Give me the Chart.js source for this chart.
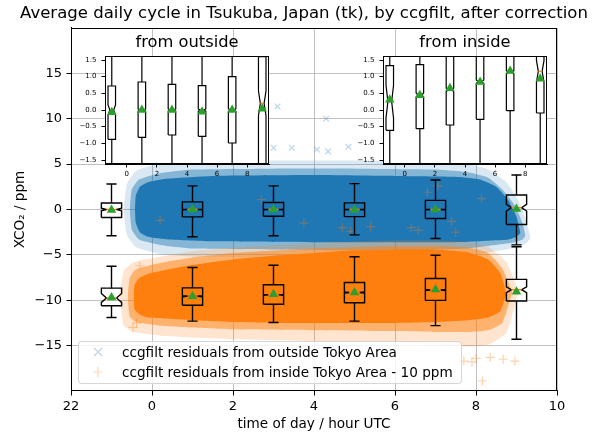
<!DOCTYPE html>
<html>
<head>
<meta charset="utf-8">
<script src="https://cdn.jsdelivr.net/npm/chart.js@4.4.1/dist/chart.umd.min.js"></script>
<style>
  html, body { margin: 0; padding: 0; background: #fff; overflow: hidden; }
  #wrap { position: relative; width: 598px; height: 437px; font-family: 'DejaVu Sans', sans-serif; }
  #wrap canvas { position: absolute; }
  #legend { position: absolute; left: 78px; top: 341px; width: 382px; height: 41px;
    border: 1px solid rgba(204,204,204,0.8); border-radius: 4px; background: rgba(255,255,255,0.8);
    font-size: 13.6px; color: #000; }
  .row { position: absolute; left: 0; width: 380px; height: 20px; line-height: 20px; white-space: nowrap; }
  .row svg { position: absolute; left: 14px; top: 5px; }
  .row span { position: absolute; left: 43px; }
</style>
</head>
<body>
<div id="wrap">
  <canvas id="main" width="598" height="437" style="left:0;top:0"></canvas>
  <canvas id="insetOut" width="234" height="156" style="left:70px;top:28px"></canvas>
  <canvas id="insetIn" width="234" height="156" style="left:348px;top:28px"></canvas>
  <div id="legend">
    <div class="row" style="top:0px">
      <svg width="10" height="10"><path d="M1 1L9 9M9 1L1 9" stroke="rgba(31,119,180,0.3)" stroke-width="1.2"/></svg>
      <span>ccgfilt residuals from outside Tokyo Area</span>
    </div>
    <div class="row" style="top:20px">
      <svg width="10" height="10"><path d="M5 0V10M0 5H10" stroke="rgba(255,127,14,0.3)" stroke-width="1.2"/></svg>
      <span>ccgfilt residuals from inside Tokyo Area - 10 ppm</span>
    </div>
  </div>
</div>
<script>
// hours (UTC) of the box positions
const positions = [-1, 1, 3, 5, 7, 9];
const insideShift = 10;   // inside series is plotted 10 ppm lower in the main panel

// box statistics, outside Tokyo Area (ppm)
const outQ1 = [-0.88, -0.82, -0.75, -0.79, -0.99, -1.65];
const outQ3 = [0.72, 0.84, 0.77, 0.73, 1.0, 1.6];
const outMed = [0.0, 0.0, 0.0, 0.0, 0.0, 0.2];
const outNotch = [0.15, 0.03, 0.03, 0.03, 0.04, 0.37];
const outLow = [-2.9, -3.0, -2.9, -2.8, -3.2, -3.9];
const outHigh = [2.8, 2.6, 2.6, 2.85, 3.25, 3.8];
const outMean = [-0.07, 0.0, 0.0, -0.05, 0.0, 0.04];

// box statistics, inside Tokyo Area (ppm)
const inQ1 = [-0.61, -0.56, -0.45, -0.28, -0.02, -0.09];
const inQ3 = [1.33, 1.36, 1.7, 1.95, 2.4, 2.3];
const inMed = [0.25, 0.45, 0.6, 0.85, 1.13, 1.16];
const inNotch = [0.49, 0.06, 0.05, 0.05, 0.05, 0.32];
const inLow = [-1.9, -2.3, -2.45, -2.3, -2.8, -4.3];
const inHigh = [3.75, 3.6, 3.85, 4.8, 4.95, 5.9];
const inMean = [0.31, 0.44, 0.65, 0.84, 1.17, 0.94];

// outline of the residual clouds: dense core, middle and sparse halo (ppm vs hour)
const blueCoreX = [-0.42, -0.4, -0.3, -0.1, 0.4, 1.5, 4, 6, 7.5, 8.1, 8.5, 8.8, 9.0, 9.1];
const blueCoreUp = [0, 1.5, 2.5, 3.0, 3.4, 3.7, 3.8, 3.7, 3.6, 3.3, 2.5, 1.0, -0.8, -2.6];
const blueCoreLow = [0, -1.5, -2.5, -3.0, -3.3, -3.5, -3.6, -3.6, -3.6, -3.5, -3.4, -3.3, -3.0, -2.6];
const blueMidX = [-0.55, -0.5, -0.32, 0.2, 1, 3, 5, 7, 7.8, 8.3, 8.65, 8.95, 9.15, 9.22];
const blueMidUp = [0, 2.2, 3.3, 4.0, 4.4, 4.5, 4.5, 4.4, 4.1, 3.5, 2.2, 0.5, -1.5, -2.9];
const blueMidLow = [0, -2.2, -3.3, -3.9, -4.3, -4.4, -4.5, -4.4, -4.3, -4.0, -3.8, -3.6, -3.3, -2.9];
const blueHaloX = [-0.7, -0.62, -0.38, 0.2, 1, 3, 5, 7, 7.8, 8.3, 8.75, 9.05, 9.25, 9.35];
const blueHaloUp = [0, 2.8, 4.3, 5.0, 5.3, 5.4, 5.4, 5.3, 5.0, 4.4, 3.0, 1.0, -1.5, -3.1];
const blueHaloLow = [0, -2.8, -4.2, -4.9, -5.2, -5.3, -5.4, -5.3, -5.1, -4.7, -4.4, -4.1, -3.7, -3.1];
const orangeCoreX = [-0.45, -0.43, -0.3, -0.1, 0.3, 1, 2, 3, 4, 5, 6, 7, 7.8, 8.3, 8.6, 8.75];
const orangeCoreUp = [-9.7, -8.3, -7.5, -7.1, -6.7, -6.1, -5.5, -5.1, -4.8, -4.5, -4.4, -4.4, -4.7, -5.5, -7.0, -9.2];
const orangeCoreLow = [-9.7, -11.0, -11.6, -11.9, -12.0, -12.2, -12.4, -12.5, -12.5, -12.5, -12.5, -12.4, -12.2, -11.9, -11.2, -9.2];
const orangeMidX = [-0.6, -0.55, -0.4, 0.2, 1, 2, 4, 6, 7, 7.8, 8.3, 8.65, 8.9];
const orangeMidUp = [-9.6, -7.5, -6.6, -5.9, -5.3, -4.8, -4.3, -4.0, -4.0, -4.2, -4.8, -6.5, -9.1];
const orangeMidLow = [-9.6, -11.8, -12.4, -12.8, -13.0, -13.2, -13.3, -13.4, -13.5, -13.5, -13.3, -12.5, -9.1];
const orangeHaloX = [-0.8, -0.7, -0.45, 0.2, 1, 2, 4, 6, 7, 7.8, 8.3, 8.75, 9.05];
const orangeHaloUp = [-9.5, -6.8, -5.8, -5.2, -4.6, -4.2, -3.7, -3.4, -3.4, -3.6, -4.1, -5.8, -9.0];
const orangeHaloLow = [-9.5, -12.8, -13.5, -13.9, -14.1, -14.3, -14.5, -14.6, -14.9, -15.1, -14.9, -13.6, -9.0];

// single stray points that stand out of the clouds
const blueStrayX = [3.1, 4.3, 3.0, 3.45, 4.07, 4.35, 4.85];
const blueStrayY = [11.35, 10.0, 6.8, 6.8, 6.6, 6.4, 6.9];
const orangeStrayX = [6.8, 7.06, 7.4, 7.5, 6.4, 6.57, 5.4, 4.9, 4.7, 8.14, 0.2, 2.7, 3.75,
  7.7, 8.0, 8.35, 8.67, 8.96, 8.16, 7.9, -0.3, -0.38, -0.47];
const orangeStrayY = [1.9, 2.6, -1.3, -2.5, -2.0, -2.3, -1.9, -2.4, -2.0, 1.2, -1.2, 1.1, -1.5,
  -16.7, -16.4, -16.3, -16.5, -16.7, -18.9, -16.8, -6.2, -12.5, -13.0];

const xTicks = [-2, 0, 2, 4, 6, 8, 10];
const xTickLabels = ['22', '0', '2', '4', '6', '8', '10'];
const yTicks = [-15, -10, -5, 0, 5, 10, 15];
const insetXTicks = [0, 2, 4, 6, 8];
const insetYTicks = [-1.5, -1.0, -0.5, 0.0, 0.5, 1.0, 1.5];

Chart.defaults.font.family = "'DejaVu Sans', sans-serif";
Chart.defaults.color = '#000';

const minus = s => String(s).replace('-', '\u2212');

function boxList(q1, q3, med, notch, low, high, shift) {
  return positions.map((p, i) => ({
    pos: p, q1: q1[i] - shift, q3: q3[i] - shift, med: med[i] - shift,
    notch: notch[i], low: low[i] - shift, high: high[i] - shift
  }));
}

function pts(xs, ys, shift = 0) {
  return xs.map((x, i) => ({ x: x, y: ys[i] - shift }));
}

// draws matplotlib-like notched boxes just before the mean markers
function boxPlugin(sets, width, lw) {
  return {
    id: 'boxes',
    beforeDraw(chart) { chart.$boxesDone = false; },
    beforeDatasetDraw(chart, args) {
      if (!chart.data.datasets[args.index].isMean || chart.$boxesDone) return;
      chart.$boxesDone = true;
      const { ctx, chartArea: a, scales: { x, y } } = chart;
      ctx.save();
      ctx.beginPath();
      ctx.rect(a.left, a.top, a.width, a.height);
      ctx.clip();
      ctx.lineWidth = lw;
      sets.flat().forEach(b => {
        const L = x.getPixelForValue(b.pos - width / 2);
        const R = x.getPixelForValue(b.pos + width / 2);
        const nl = x.getPixelForValue(b.pos - width / 4);
        const nr = x.getPixelForValue(b.pos + width / 4);
        const c = x.getPixelForValue(b.pos);
        const Y = v => y.getPixelForValue(v);
        const outline = [[L, b.q1], [R, b.q1], [R, b.med - b.notch], [nr, b.med], [R, b.med + b.notch],
          [R, b.q3], [L, b.q3], [L, b.med + b.notch], [nl, b.med], [L, b.med - b.notch], [L, b.q1]];
        ctx.strokeStyle = '#000';
        ctx.beginPath();
        ctx.moveTo(c, Y(b.q1)); ctx.lineTo(c, Y(b.low));
        ctx.moveTo(c, Y(b.q3)); ctx.lineTo(c, Y(b.high));
        ctx.moveTo(nl, Y(b.low)); ctx.lineTo(nr, Y(b.low));
        ctx.moveTo(nl, Y(b.high)); ctx.lineTo(nr, Y(b.high));
        ctx.stroke();
        ctx.beginPath();
        outline.forEach(([px, v], k) => k ? ctx.lineTo(px, Y(v)) : ctx.moveTo(px, Y(v)));
        ctx.stroke();
        ctx.strokeStyle = '#ff7f0e';
        ctx.beginPath();
        ctx.moveTo(nl, Y(b.med)); ctx.lineTo(nr, Y(b.med));
        ctx.stroke();
      });
      ctx.restore();
    }
  };
}

const whiteArea = {
  id: 'whiteArea',
  beforeDraw(chart) {
    const { ctx, chartArea: a } = chart;
    ctx.save();
    ctx.fillStyle = '#fff';
    ctx.fillRect(a.left, a.top, a.width, a.height);
    ctx.restore();
  }
};

const frame = {
  id: 'frame',
  afterDraw(chart) {
    const { ctx, chartArea: a } = chart;
    ctx.save();
    ctx.strokeStyle = '#000';
    ctx.lineWidth = 1;
    ctx.strokeRect(Math.round(a.left) + 0.5, Math.round(a.top) + 0.5, Math.round(a.width) - 1, Math.round(a.height) - 1);
    ctx.restore();
  }
};

function meanSet(ys, shift, r) {
  return {
    data: pts(positions, ys, shift), showLine: false, isMean: true, order: 0,
    pointStyle: 'triangle', pointRadius: r, borderWidth: 0,
    backgroundColor: '#2ca02c', borderColor: '#2ca02c'
  };
}

function edge(xs, ys, color, fill, order) {
  return {
    data: pts(xs, ys), showLine: true, borderWidth: 0, pointRadius: 0, tension: 0.15,
    borderColor: 'rgba(0,0,0,0)', backgroundColor: color, fill: fill, order: order
  };
}

function strays(xs, ys, style, color, r, order) {
  return {
    data: pts(xs, ys), showLine: false, pointStyle: style, pointRadius: r,
    borderWidth: 1.2, borderColor: color, backgroundColor: color, order: order
  };
}

const blueHalo = 'rgba(31,119,180,0.17)', blueMid = 'rgba(31,119,180,0.45)', blueCore = 'rgb(31,119,180)';
const orangeHalo = 'rgba(255,127,14,0.2)', orangeMid = 'rgba(255,127,14,0.5)', orangeCore = 'rgb(255,127,14)';

new Chart(document.getElementById('main'), {
  type: 'line',
  data: {
    datasets: [
      edge(blueHaloX, blueHaloUp, blueHalo, false, 30),
      edge(blueHaloX, blueHaloLow, blueHalo, '-1', 30),
      edge(blueMidX, blueMidUp, blueMid, false, 29),
      edge(blueMidX, blueMidLow, blueMid, '-1', 29),
      edge(blueCoreX, blueCoreUp, blueCore, false, 28),
      edge(blueCoreX, blueCoreLow, blueCore, '-1', 28),
      edge(orangeHaloX, orangeHaloUp, orangeHalo, false, 27),
      edge(orangeHaloX, orangeHaloLow, orangeHalo, '-1', 27),
      edge(orangeMidX, orangeMidUp, orangeMid, false, 26),
      edge(orangeMidX, orangeMidLow, orangeMid, '-1', 26),
      edge(orangeCoreX, orangeCoreUp, orangeCore, false, 25),
      edge(orangeCoreX, orangeCoreLow, orangeCore, '-1', 25),
      strays(blueStrayX, blueStrayY, 'crossRot', 'rgba(31,119,180,0.3)', 4, 16),
      strays(orangeStrayX, orangeStrayY, 'cross', 'rgba(255,127,14,0.35)', 4.5, 15),
      meanSet(outMean, 0, 5.5),
      meanSet(inMean, insideShift, 5.5)
    ]
  },
  options: {
    responsive: false,
    animation: false,
    events: [],
    layout: { padding: { left: 10, right: 0, top: 0, bottom: 0 } },
    plugins: {
      legend: { display: false },
      tooltip: { enabled: false },
      title: {
        display: true, color: '#000',
        text: 'Average daily cycle in Tsukuba, Japan (tk), by ccgfilt, after correction',
        font: { size: 16.55, weight: 'normal' }, padding: { top: 4, bottom: 4.1 }
      }
    },
    scales: {
      x: {
        type: 'linear', min: -2, max: 10,
        afterBuildTicks: s => { s.ticks = xTicks.map(v => ({ value: v })); },
        afterFit: s => { s.height = 46; },
        ticks: { callback: (v, i) => xTickLabels[i], font: { size: 13 }, padding: 3, maxRotation: 0, autoSkip: false },
        grid: { color: '#b0b0b0', lineWidth: 0.8, tickColor: '#000', tickLength: 4.5, tickWidth: 1 },
        border: { color: '#000', width: 1 },
        title: { display: true, text: 'time of day / hour UTC', font: { size: 13.6 }, padding: { top: 0, bottom: 4 } }
      },
      y: {
        min: -20, max: 20,
        afterBuildTicks: s => { s.ticks = yTicks.map(v => ({ value: v })); },
        afterFit: s => { s.width = 61; },
        ticks: { callback: v => minus(v), font: { size: 13 }, padding: 4.5 },
        grid: { color: '#b0b0b0', lineWidth: 0.8, tickColor: '#000', tickLength: 4.5, tickWidth: 1 },
        border: { color: '#000', width: 1 },
        title: { display: true, text: 'XCO\u2082 / ppm', font: { size: 13.6 }, padding: { top: 2, bottom: 0 } }
      },
      // empty right-hand spacer, keeps the plot area off the right edge
      spacer: {
        axis: 'y', position: 'right',
        afterFit: s => { s.width = 41; },
        ticks: { display: false },
        grid: { display: false },
        border: { display: false }
      }
    }
  },
  plugins: [boxPlugin([boxList(outQ1, outQ3, outMed, outNotch, outLow, outHigh, 0),
    boxList(inQ1, inQ3, inMed, inNotch, inLow, inHigh, insideShift)], 0.5, 1.4), frame]
});

function inset(id, title, boxes, means) {
  return new Chart(document.getElementById(id), {
    type: 'line',
    data: { datasets: [meanSet(means, 0, 5.5)] },
    options: {
      responsive: false,
      animation: false,
      events: [],
      layout: { padding: { left: 0, right: 35, top: 0, bottom: 0 } },
      plugins: {
        legend: { display: false },
        tooltip: { enabled: false },
        title: {
          display: true, fullSize: false, text: title, color: '#000',
          font: { size: 16.3, weight: 'normal' }, padding: { top: 5, bottom: 3.44 }
        }
      },
      scales: {
        x: {
          type: 'linear', min: -1.45, max: 9.45,
          afterBuildTicks: s => { s.ticks = insetXTicks.map(v => ({ value: v })); },
          afterFit: s => { s.height = 20; },
          ticks: { font: { size: 7 }, padding: 2, maxRotation: 0, autoSkip: false },
          grid: { drawOnChartArea: false, tickColor: '#000', tickLength: 3.5, tickWidth: 1 },
          border: { color: '#000', width: 1 }
        },
        y: {
          min: -1.62, max: 1.62,
          afterBuildTicks: s => { s.ticks = insetYTicks.map(v => ({ value: v })); },
          afterFit: s => { s.width = 35; },
          ticks: { callback: v => minus(v.toFixed(1)), font: { size: 7 }, padding: 5 },
          grid: { drawOnChartArea: false, tickColor: '#000', tickLength: 3.5, tickWidth: 1 },
          border: { color: '#000', width: 1 }
        }
      }
    },
    plugins: [whiteArea, boxPlugin([boxes], 0.5, 1.2), frame]
  });
}

inset('insetOut', 'from outside', boxList(outQ1, outQ3, outMed, outNotch, outLow, outHigh, 0), outMean);
inset('insetIn', 'from inside', boxList(inQ1, inQ3, inMed, inNotch, inLow, inHigh, 0), inMean);
</script>
</body>
</html>
